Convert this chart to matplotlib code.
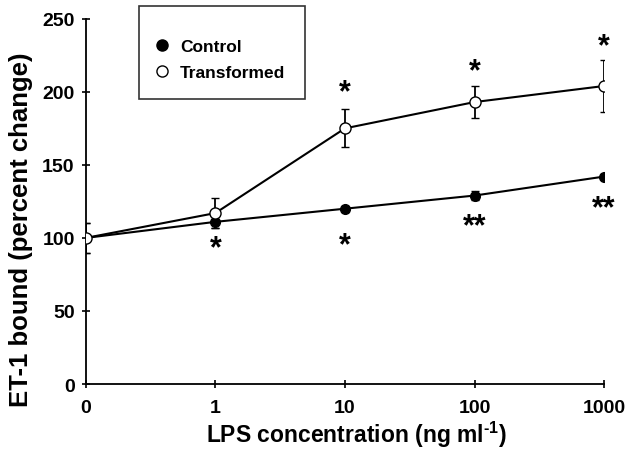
import matplotlib
matplotlib.use("Agg")
import matplotlib.pyplot as plt
from matplotlib.lines import Line2D
import numpy as np

plt.rcParams['font.family'] = ['Liberation Sans', 'DejaVu Sans']
plt.rcParams['font.weight'] = 'bold'
plt.rcParams['mathtext.fontset'] = 'custom'
plt.rcParams['mathtext.bf'] = 'Liberation Sans:bold'
plt.rcParams['mathtext.rm'] = 'Liberation Sans:bold'

doses = ['0', '1', '10', '100', '1000']
control = [100, 111, 120, 129, 142]
control_err = [10, 4, 2, 3, 2]
transformed = [100, 117, 175, 193, 204]
transformed_err = [10, 10, 13, 11, 18]

# significance marks: (position, y, text)
stars_transformed = [(2, 200, '*'), (3, 214, '*'), (4, 231, '*')]
stars_control = [(1, 93, '*'), (2, 95, '*'), (3, 108, '**'), (4, 120, '**')]

x = np.arange(len(doses))

fig = plt.figure(figsize=(6.4, 4.6), dpi=100)
ax = fig.add_axes([0.134, 0.163, 0.81, 0.794])

ax.errorbar(x, control, yerr=control_err, fmt='-o', color='black', mfc='black',
            mec='black', ms=7, lw=1.5, capsize=3, elinewidth=1.3)
ax.errorbar(x, transformed, yerr=transformed_err, fmt='-o', color='black', mfc='white',
            mec='black', ms=8, lw=1.5, capsize=3, elinewidth=1.3, zorder=3)

for xi, yi, s in stars_transformed + stars_control:
    ax.text(xi, yi, s, ha='center', va='center', fontsize=22, fontweight='bold')

ax.set_xlim(0, 4)
ax.set_ylim(0, 250)
ax.set_xticks(x)
ax.set_xticklabels(doses)
ax.set_yticks(np.arange(0, 251, 50))
ax.spines['top'].set_visible(False)
ax.spines['right'].set_visible(False)
ax.spines['left'].set_linewidth(1.3)
ax.spines['bottom'].set_linewidth(1.3)
ax.tick_params(direction='inout', length=6, width=1.2, labelsize=14)
ax.tick_params(axis='x', pad=8)
ax.tick_params(axis='y', pad=5)
for lab in ax.get_xticklabels() + ax.get_yticklabels():
    lab.set_fontweight('bold')

ax.set_xlabel(r'LPS concentration (ng ml$^{\text{-1}}$)', fontsize=16.5, fontweight='bold')
ax.set_ylabel('ET-1 bound (percent change)', fontsize=18.5, fontweight='bold')
ax.xaxis.set_label_coords(0.521, -0.095)
ax.yaxis.set_label_coords(-0.102, 0.425)

handles = [Line2D([], [], ls='none', marker='o', ms=8, mfc='black', mec='black'),
           Line2D([], [], ls='none', marker='o', ms=8, mfc='white', mec='black')]
leg = ax.legend(handles, ['Control', 'Transformed'], loc='upper left',
                bbox_to_anchor=(0.085, 1.06), frameon=True, fancybox=False,
                edgecolor='black', fontsize=12.5, borderpad=1.1, handletextpad=0.8,
                handlelength=0.5, labelspacing=0.6, title=' ', title_fontsize=2)
leg.get_frame().set_linewidth(1.2)
for t in leg.get_texts():
    t.set_fontweight('bold')

fig.savefig('out.png', dpi=100)
